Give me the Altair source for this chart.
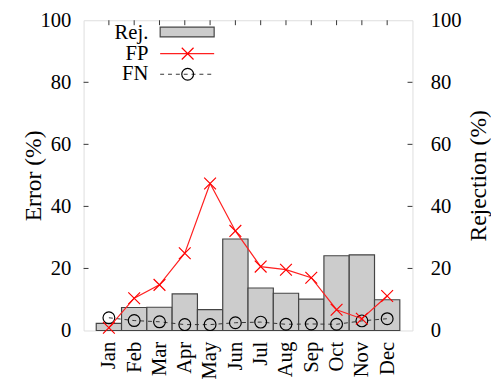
import altair as alt
import pandas as pd

months = ["Jan", "Feb", "Mar", "Apr", "May", "Jun", "Jul", "Aug", "Sep", "Oct", "Nov", "Dec"]
month_idx = [1, 2, 3, 4, 5, 6, 7, 8, 9, 10, 11, 12]
rej = [2.3, 7.4, 7.5, 11.8, 6.7, 29.5, 13.7, 12.0, 10.1, 24.1, 24.4, 9.9]
fp = [0.9, 10.4, 14.7, 24.9, 47.4, 32.1, 20.6, 19.6, 17.0, 6.7, 3.8, 11.1]
fn = [4.1, 3.2, 2.8, 1.9, 1.9, 2.5, 2.7, 2.0, 2.1, 2.0, 3.1, 3.8]
y_ticks = [0, 20, 40, 60, 80, 100]
y_inner_ticks = [20, 40, 60, 80]

df = pd.DataFrame({"m": month_idx, "name": months, "rej": rej, "fp": fp, "fn": fn})
yt = pd.DataFrame({"v": y_inner_ticks})
xt = pd.DataFrame({"m": month_idx})
one = pd.DataFrame({"a": [0]})

W, H = 335, 316
FONT = "Liberation Serif"
xscale = alt.Scale(domain=[0, 13], nice=False, zero=False)
yscale = alt.Scale(domain=[0, 100], nice=False)

label_expr = "[''," + ",".join("'%s'" % m for m in months) + ",''][datum.value]"

x_axis = alt.Axis(values=month_idx, labelExpr=label_expr, labelAngle=-90, labelAlign="right",
                  labelBaseline="middle", ticks=False, domain=False, grid=False, labelPadding=11,
                  labelFont=FONT, labelFontSize=21, labelColor="black", title=None)

bars = alt.Chart(df).transform_calculate(
    x0="datum.m - 0.5", x1="datum.m + 0.5", z="0"
).mark_rect(fill="#cccccc", stroke="#444444", strokeWidth=1.2, opacity=1).encode(
    x=alt.X("x0:Q", scale=xscale, axis=x_axis),
    x2="x1:Q",
    y=alt.Y("rej:Q", scale=yscale, axis=alt.Axis(orient="right", values=y_ticks, ticks=False, domain=False,
                                                  grid=False, labelPadding=18, labelAlign="left",
                                                  labelFont=FONT, labelFontSize=21, labelColor="black",
                                                  title="Rejection (%)", titleFont=FONT, titleFontSize=24,
                                                  titleFontWeight="normal", titleColor="black",
                                                  titleAngle=-90, titleBaseline="middle",
                                                  titleX=67, titleY=H / 2)),
    y2="z:Q",
)

left_axis = alt.Axis(orient="left", values=y_ticks, ticks=False, domain=False, grid=False, labelPadding=13,
                     labelFont=FONT, labelFontSize=21, labelColor="black",
                     title="Error (%)", titleFont=FONT, titleFontSize=24, titleFontWeight="normal",
                     titleColor="black", titleAngle=-90, titleBaseline="middle", titleX=-51, titleY=H / 2)

xs = alt.X("m:Q", scale=xscale, axis=x_axis)

fn_line = alt.Chart(df).mark_line(color="#333333", strokeWidth=1, strokeDash=[4, 4]).encode(
    x=xs, y=alt.Y("fn:Q", scale=yscale, axis=left_axis))
fn_pts = alt.Chart(df).mark_point(shape="circle", size=144, filled=False, color="black", strokeWidth=1.2,
                                  opacity=1).encode(x=xs, y=alt.Y("fn:Q", scale=yscale, axis=left_axis))
fp_line = alt.Chart(df).mark_line(color="#ff2020", strokeWidth=1.2).encode(
    x=xs, y=alt.Y("fp:Q", scale=yscale, axis=left_axis))
xshape = "M-1,-1L1,1M-1,1L1,-1"
fp_pts = alt.Chart(df).mark_point(shape=xshape, size=144, filled=False, color="#ff0000", strokeWidth=1.2,
                                  opacity=1).encode(x=xs, y=alt.Y("fp:Q", scale=yscale, axis=left_axis))

ytick_l = alt.Chart(yt).mark_rule(color="#333333", strokeWidth=1).encode(
    y=alt.Y("v:Q", scale=yscale, axis=left_axis), x=alt.value(0), x2=alt.value(5))
ytick_r = alt.Chart(yt).mark_rule(color="#333333", strokeWidth=1).encode(
    y=alt.Y("v:Q", scale=yscale, axis=left_axis), x=alt.value(W - 5), x2=alt.value(W))
xtick_t = alt.Chart(xt).mark_rule(color="#333333", strokeWidth=1).encode(
    x=xs, y=alt.value(0), y2=alt.value(5))


def ltext(txt, ypos):
    return alt.Chart(one).mark_text(align="right", baseline="middle", font=FONT, fontSize=21,
                                    color="black").encode(x=alt.value(66), y=alt.value(ypos),
                                                          text=alt.value(txt))


leg_rej_t = ltext("Rej.", 13)
leg_fp_t = ltext("FP", 34)
leg_fn_t = ltext("FN", 55)
leg_rect = alt.Chart(one).mark_rect(fill="#cccccc", stroke="#444444", strokeWidth=1.2).encode(
    x=alt.value(78), x2=alt.value(133), y=alt.value(7), y2=alt.value(17))
leg_fp_line = alt.Chart(one).mark_rule(color="#ff2020", strokeWidth=1.2).encode(
    x=alt.value(78), x2=alt.value(133), y=alt.value(34))
leg_fp_pt = alt.Chart(one).mark_point(shape=xshape, size=144, filled=False, color="#ff0000",
                                      strokeWidth=1.2, opacity=1).encode(x=alt.value(106), y=alt.value(34))
leg_fn_line = alt.Chart(one).mark_rule(color="#333333", strokeWidth=1, strokeDash=[4, 4]).encode(
    x=alt.value(78), x2=alt.value(133), y=alt.value(55))
leg_fn_pt = alt.Chart(one).mark_point(shape="circle", size=144, filled=False, color="black",
                                      strokeWidth=1.2, opacity=1).encode(x=alt.value(106), y=alt.value(55))

left_group = alt.layer(ytick_l, ytick_r, xtick_t, fn_line, fn_pts, fp_line, fp_pts,
                       leg_rect, leg_fp_line, leg_fp_pt, leg_fn_line, leg_fn_pt,
                       leg_rej_t, leg_fp_t, leg_fn_t)

chart = alt.layer(bars, left_group).resolve_scale(y="independent").properties(
    width=W, height=H,
    autosize=alt.AutoSizeParams(type="none"),
    padding={"left": 77, "top": 9, "right": 80, "bottom": 50},
).configure_view(stroke="#222222", strokeWidth=1.5).configure_axis(
    labelFont=FONT, titleFont=FONT, labelColor="black", titleColor="black"
).configure(background="white", font=FONT)

chart.save("out.html", embed_options={"renderer": "svg", "actions": False})
